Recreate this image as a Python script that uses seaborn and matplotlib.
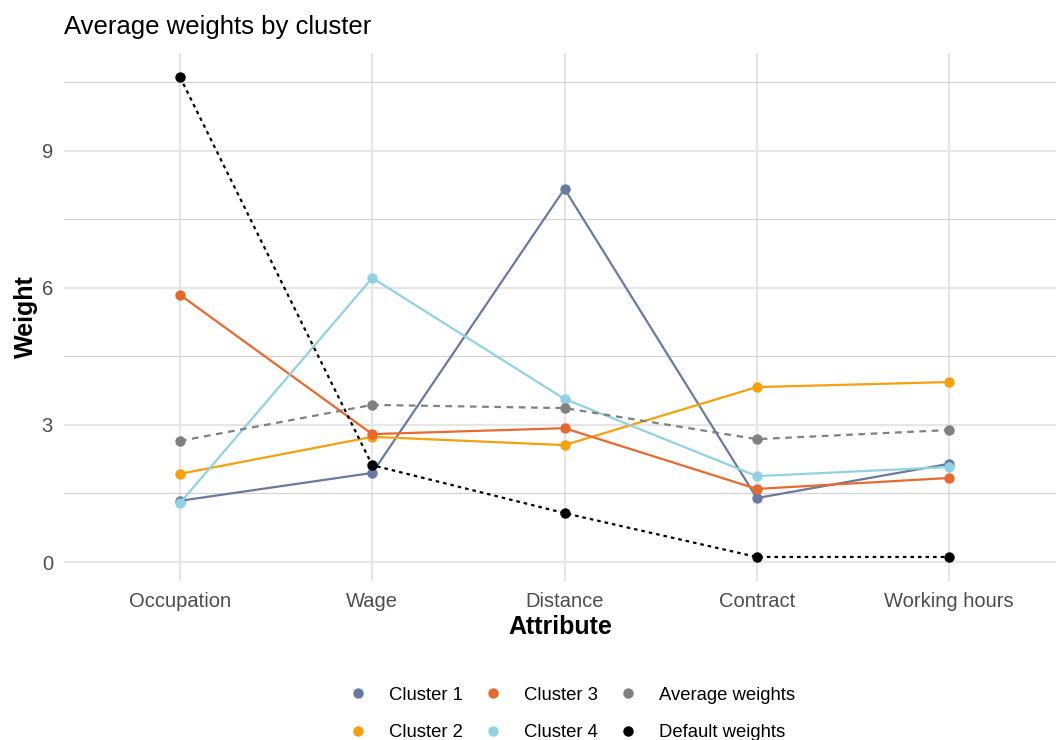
import pandas as pd
import matplotlib.pyplot as plt
import seaborn as sns
from matplotlib.lines import Line2D

# values
attributes = ["Occupation", "Wage", "Distance", "Contract", "Working hours"]
cluster1 = [1.34, 1.95, 8.17, 1.40, 2.15]
cluster2 = [1.93, 2.74, 2.56, 3.83, 3.94]
cluster3 = [5.85, 2.80, 2.93, 1.60, 1.84]
cluster4 = [1.29, 6.22, 3.57, 1.88, 2.08]
average_weights = [2.65, 3.44, 3.37, 2.69, 2.89]
default_weights = [10.62, 2.12, 1.07, 0.11, 0.11]

series_names = ["Cluster 1", "Cluster 2", "Cluster 3", "Cluster 4",
                "Average weights", "Default weights"]
series_values = [cluster1, cluster2, cluster3, cluster4,
                 average_weights, default_weights]
colors = {"Cluster 1": "#6A79A0", "Cluster 2": "#F4A00F", "Cluster 3": "#E8692E",
          "Cluster 4": "#92D1E2", "Average weights": "#808080",
          "Default weights": "#000000"}

# long format table for seaborn
rows = []
for name, vals in zip(series_names, series_values):
    for attr, v in zip(attributes, vals):
        rows.append({"Attribute": attr, "Weight": v, "series": name})
df = pd.DataFrame(rows)

sns.set_style("white")
plt.rcParams["font.family"] = ["Liberation Sans", "DejaVu Sans"]
plt.rcParams["text.color"] = "black"
plt.rcParams["axes.labelcolor"] = "black"

fig = plt.figure(figsize=(10.56, 7.4), dpi=100)
ax = fig.add_axes([64 / 1056, 1 - 581 / 740, 1 - 64 / 1056, (581 - 53) / 740])

dashes = {"Cluster 1": "", "Cluster 2": "", "Cluster 3": "", "Cluster 4": "",
          "Average weights": (3, 2.5), "Default weights": (1.6, 1.8)}
sns.lineplot(data=df, x="Attribute", y="Weight", hue="series", style="series",
             hue_order=series_names, style_order=series_names,
             palette=colors, dashes=dashes, markers={n: "o" for n in series_names},
             markersize=7.5, markeredgewidth=0, linewidth=1.6, sort=False,
             legend=False, ax=ax, zorder=3)

ax.set_xlim(-0.603, 4.556)
ax.set_ylim(-0.416, 11.145)
ax.set_yticks([0, 3, 6, 9])
ax.set_yticks([1.5, 4.5, 7.5, 10.5], minor=True)
ax.grid(True, which="major", color="#E6E6E6", linewidth=1.6, zorder=0)
ax.grid(True, which="minor", axis="y", color="#D2D2D2", linewidth=0.8, zorder=0)
ax.set_axisbelow(True)
for s in ax.spines.values():
    s.set_visible(False)
ax.tick_params(axis="both", which="both", length=0, labelsize=14.5, labelcolor="#4D4D4D")
ax.tick_params(axis="y", pad=8)
ax.tick_params(axis="x", pad=8)

ax.set_xlabel("Attribute", fontsize=18, fontweight="bold", labelpad=3, color="black")
ax.set_ylabel("Weight", fontsize=18, fontweight="bold", labelpad=3, color="black")
fig.text(64 / 1056, 1 - 27 / 740, "Average weights by cluster", fontsize=18.5,
         ha="left", va="center", color="black")

handles = [Line2D([], [], linestyle="none", marker="o", markersize=7.5,
                  markerfacecolor=colors[n], markeredgewidth=0) for n in series_names]
leg = fig.legend(handles, series_names, loc="center", ncol=3, frameon=False,
                 bbox_to_anchor=(572 / 1056, 1 - 714 / 740), fontsize=13.3,
                 handlelength=1.0, handletextpad=1.2, columnspacing=1.1,
                 labelspacing=1.1)
for t in leg.get_texts():
    t.set_color("black")

plt.savefig("out.png", dpi=100)
